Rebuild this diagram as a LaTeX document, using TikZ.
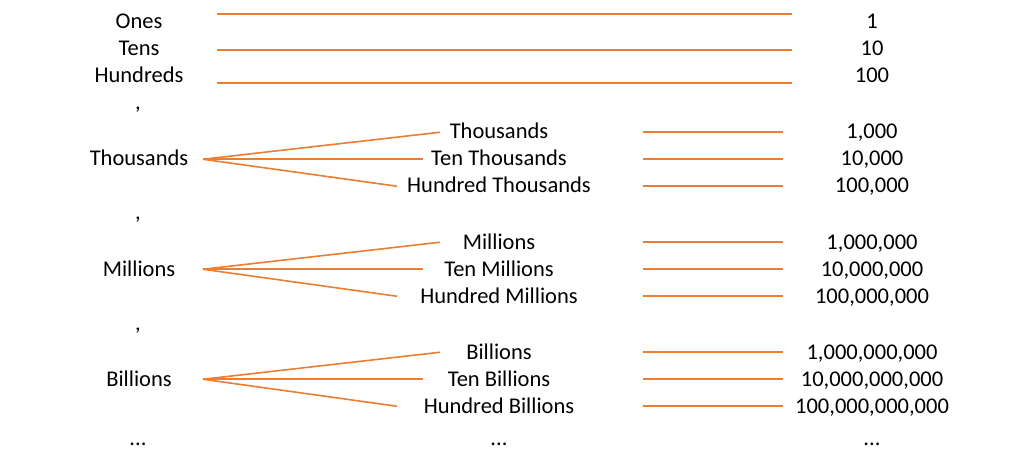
\documentclass[tikz,border=0pt]{standalone}
\usepackage{fontspec}
\setmainfont{Carlito}
\usetikzlibrary{trees}
\definecolor{lineorange}{HTML}{ED7D31}

\begin{document}
\begin{tikzpicture}[x=1pt,y=-1pt,
  font=\fontsize{22.5}{27}\selectfont,
  every node/.style={text height=13.5pt,text depth=0pt,inner sep=0pt,outer sep=0pt},
  place/.style={minimum width=128pt},
  value/.style={minimum width=178pt},
  subtop/.style={minimum width=118pt},
  submid/.style={minimum width=152pt},
  subbot/.style={minimum width=204pt},
  conn/.style={draw=lineorange,line width=1.6pt},
  grow via three points={one child at (360,-27) and
  two children at (360,-27) and (360,0)},
  edge from parent/.style={conn},
  edge from parent path={(\tikzparentnode.east) -- (\tikzchildnode.west)}]

  \useasboundingbox (0,0) rectangle (1024,470);

  % ones, tens, hundreds
  \node[place] (ones) at (139,21.75) {Ones};
  \node[place] (tens) at (139,48.75) {Tens};
  \node[place] (hundreds) at (139,76.25) {Hundreds};
  \node[value] (one) at (872,21.75) {1};
  \node[value] (ten) at (872,48.75) {10};
  \node[value] (hundred) at (872,76.25) {100};
  \draw[conn] ([xshift=14pt,yshift=7.75pt]ones.east) -- ([xshift=9pt,yshift=7.75pt]one.west);
  \draw[conn] ([xshift=14pt,yshift=-1.25pt]tens.east) -- ([xshift=9pt,yshift=-1.25pt]ten.west);
  \draw[conn] ([xshift=14pt,yshift=-6.75pt]hundreds.east) -- ([xshift=9pt,yshift=-6.75pt]hundred.west);

  \node (comma1) at (138,103.25) {,};
  \node (comma2) at (138,213.25) {,};
  \node (comma3) at (138,323.25) {,};

  % groups
  \node[place] (thou) at (139,159.25) {Thousands}
    child { node[subtop] (thou1) {Thousands}}
    child { node[submid] (thou2) {Ten Thousands}}
    child { node[subbot] (thou3) {Hundred Thousands}};
  \node[place] (mill) at (139,269.25) {Millions}
    child { node[subtop] (mill1) {Millions}}
    child { node[submid] (mill2) {Ten Millions}}
    child { node[subbot] (mill3) {Hundred Millions}};
  \node[place] (bill) at (139,379.25) {Billions}
    child { node[subtop] (bill1) {Billions}}
    child { node[submid] (bill2) {Ten Billions}}
    child { node[subbot] (bill3) {Hundred Billions}};

  % values
  \node[value] (nthou1) at (872,132.25) {1,000};
  \node[value] (nthou2) at (872,159.25) {10,000};
  \node[value] (nthou3) at (872,186.25) {100,000};
  \node[value] (nmill1) at (872,242.25) {1,000,000};
  \node[value] (nmill2) at (872,269.25) {10,000,000};
  \node[value] (nmill3) at (872,296.25) {100,000,000};
  \node[value] (nbill1) at (872,352.25) {1,000,000,000};
  \node[value] (nbill2) at (872,379.25) {10,000,000,000};
  \node[value] (nbill3) at (872,406.25) {100,000,000,000};

  \coordinate (start) at (643,0);
  \foreach \n in {nthou1,nthou2,nthou3,nmill1,nmill2,nmill3,nbill1,nbill2,nbill3}
    \draw[conn] (start |- \n.west) -- (\n.west);

  \node (dots1) at (138,438.25) {...};
  \node (dots2) at (499,438.25) {...};
  \node (dots3) at (872,438.25) {...};
\end{tikzpicture}
\end{document}
